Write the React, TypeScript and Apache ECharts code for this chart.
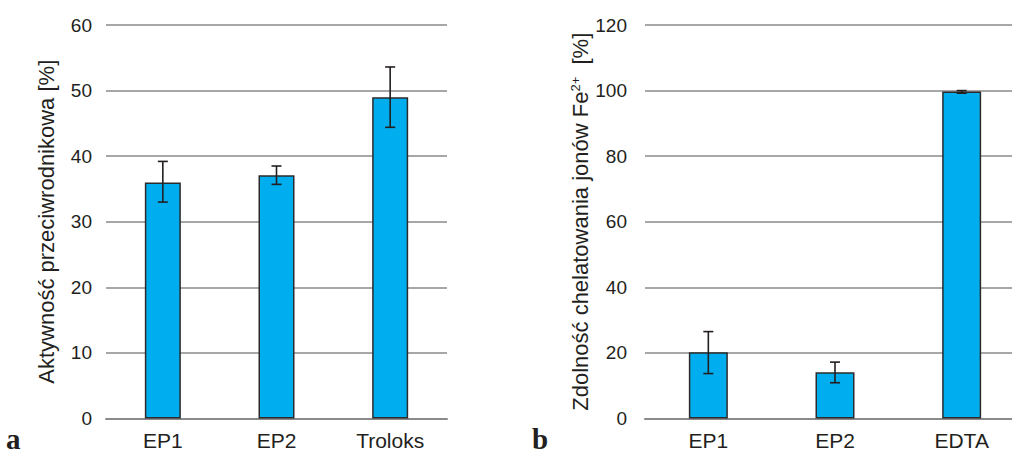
import React, { useEffect, useRef } from "react";
import * as echarts from "echarts";

const categoriesA = ["EP1", "EP2", "Troloks"];
const valuesA = [36.0, 37.1, 49.0];
const errHighA = [39.2, 38.5, 53.6];
const errLowA = [33.0, 35.7, 44.4];

const categoriesB = ["EP1", "EP2", "EDTA"];
const valuesB = [20.2, 14.1, 99.7];
const errHighB = [26.5, 17.2, 100.0];
const errLowB = [13.7, 10.9, 99.2];

const yTicksA = { min: 0, max: 60, interval: 10 };
const yTicksB = { min: 0, max: 120, interval: 20 };

const FONT = "'Liberation Sans', Arial, Helvetica, sans-serif";
const TEXT = "#231f20";
const GRIDC = "#8a8a8a";
const BAR = "#00aeef";

function errorSeries(xIdx: number, hi: number[], lo: number[]) {
  return {
    type: "custom",
    xAxisIndex: xIdx,
    yAxisIndex: xIdx,
    z: 5,
    data: hi.map((h, i) => [i, h, lo[i]]),
    encode: { x: 0, y: [1, 2] },
    renderItem: (params: any, api: any) => {
      const x = api.value(0);
      const a = api.coord([x, api.value(1)]);
      const b = api.coord([x, api.value(2)]);
      const hw = 5;
      const st = { stroke: "#231f20", lineWidth: 1.6 };
      return {
        type: "group",
        children: [
          { type: "line", shape: { x1: a[0], y1: a[1], x2: b[0], y2: b[1] }, style: st },
          { type: "line", shape: { x1: a[0] - hw, y1: a[1], x2: a[0] + hw, y2: a[1] }, style: st },
          { type: "line", shape: { x1: b[0] - hw, y1: b[1], x2: b[0] + hw, y2: b[1] }, style: st },
        ],
      };
    },
  };
}

export default function App() {
  const ref = useRef<HTMLDivElement>(null);
  useEffect(() => {
    document.body.style.margin = "0";
    document.body.style.overflow = "hidden";
    const chart = echarts.init(ref.current!, null, { renderer: "svg" });
    const yAxisBase = (t: any, name: string, nameGap: number, labelMargin: number) => ({
      type: "value",
      min: t.min,
      max: t.max,
      interval: t.interval,
      name,
      nameLocation: "middle",
      nameGap,
      nameTextStyle: {
        fontFamily: FONT,
        fontSize: 22,
        color: TEXT,
        rich: {
          n: { fontFamily: FONT, fontSize: 22, color: TEXT },
          sup: { fontFamily: FONT, fontSize: 13, color: TEXT, padding: [0, 0, 10, 0] },
        },
      },
      axisLine: { show: false },
      axisTick: { show: false },
      axisLabel: { fontFamily: FONT, fontSize: 19, color: TEXT, margin: labelMargin },
      splitLine: { show: true, lineStyle: { color: GRIDC, width: 1.5 } },
    });
    const xAxisBase = (cats: string[], gi: number) => ({
      type: "category",
      gridIndex: gi,
      data: cats,
      axisLine: { show: true, lineStyle: { color: GRIDC, width: 2 } },
      axisTick: { show: false },
      axisLabel: { fontFamily: FONT, fontSize: 21, color: TEXT, margin: 11 },
    });
    const letterStyle = (t: string) => ({
      text: t,
      font: "bold 29px 'Liberation Serif', serif",
      fill: TEXT,
      verticalAlign: "middle",
      align: "left",
    });
    chart.setOption({
      animation: false,
      backgroundColor: "#ffffff",
      grid: [
        { left: 106, width: 341, top: 25, height: 393.5 },
        { left: 645, width: 380, top: 25, height: 393.5 },
      ],
      xAxis: [xAxisBase(categoriesA, 0), xAxisBase(categoriesB, 1)],
      yAxis: [
        { ...yAxisBase(yTicksA, "Aktywność przeciwrodnikowa [%]", 49, 14), gridIndex: 0 },
        {
          ...yAxisBase(yTicksB, "{n|Zdolność chelatowania jonów Fe}{sup|2+}{n|  [%]}", 50, 18),
          gridIndex: 1,
        },
      ],
      series: [
        {
          type: "bar",
          xAxisIndex: 0,
          yAxisIndex: 0,
          data: valuesA,
          barWidth: 36,
          itemStyle: { color: BAR, borderColor: "#2b2b2b", borderWidth: 1.5 },
        },
        {
          type: "bar",
          xAxisIndex: 1,
          yAxisIndex: 1,
          data: valuesB,
          barWidth: 39,
          itemStyle: { color: BAR, borderColor: "#2b2b2b", borderWidth: 1.5 },
        },
        errorSeries(0, errHighA, errLowA),
        errorSeries(1, errHighB, errLowB),
      ],
      graphic: [
        { type: "text", x: 6, y: 439, style: letterStyle("a") },
        { type: "text", x: 532, y: 439, style: letterStyle("b") },
      ],
    });
    return () => chart.dispose();
  }, []);
  return <div ref={ref} style={{ width: 1025, height: 456 }} />;
}
